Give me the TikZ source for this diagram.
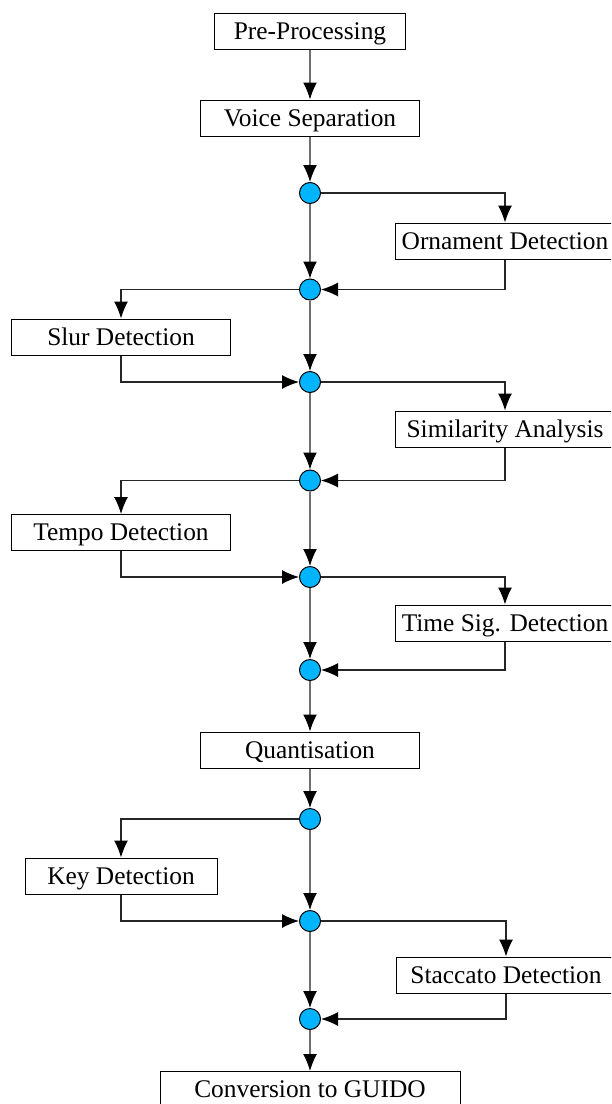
\documentclass[tikz,border=0pt]{standalone}
\usepackage{fontspec}
\setmainfont{Liberation Serif}
\usepackage{xcolor}
\usetikzlibrary{shapes,arrows.meta,positioning}
\definecolor{dot}{RGB}{0, 180, 255}
\definecolor{wire}{RGB}{110, 110, 110}
\tikzstyle{process} = [rectangle, draw, line width=0.5pt, minimum width=109.5pt, minimum height=18pt, inner sep=0pt, text height=11pt, text depth=3pt, font=\fontsize{12.7}{15}\selectfont]
\tikzstyle{junction} = [circle, draw, fill=dot, minimum size=10.5pt, inner sep=0pt, line width=0.5pt]
\tikzstyle{line} = [draw, wire, line width=0.7pt, -{Latex[length=8.5pt, width=7pt, color=black]}]
\tikzstyle{branch} = [draw, black!85, line width=0.6pt, -{Latex[length=8.5pt, width=7pt, color=black]}]

\begin{document}
\begin{tikzpicture}[x=0.5pt, y=-0.5pt]
    \useasboundingbox (0,0) rectangle (611,1104);
    \clip (0,0) rectangle (611,1104);

    % main column
    \node [process, minimum width=95.5pt] (pre) at (310,31) {Pre-Processing};
    \node [process, below of=pre, node distance=43.5pt] (voice) {Voice Separation};
    \node [junction, below of=voice, node distance=37.5pt] (j1) {};
    \node [junction, below of=j1, node distance=48.25pt] (j2) {};
    \node [junction, below of=j2, node distance=46.25pt] (j3) {};
    \node [junction, below of=j3, node distance=49.25pt] (j4) {};
    \node [junction, below of=j4, node distance=48.25pt] (j5) {};
    \node [junction, below of=j5, node distance=46.5pt] (j6) {};
    \node [process, below of=j6, node distance=40pt] (quant) {Quantisation};
    \node [junction, below of=quant, node distance=34.5pt] (j7) {};
    \node [junction, below of=j7, node distance=51pt] (j8) {};
    \node [junction, below of=j8, node distance=49pt] (j9) {};
    \node [process, minimum width=150pt, below of=j9, node distance=35.25pt] (guido) {Conversion to GUIDO};

    % side steps
    \node [process, below of=j1, xshift= 97.5pt, node distance=24pt] (ornament) {Ornament Detection};
    \node [process, below of=j2, xshift=-94.5pt, node distance=23.75pt] (slur) {Slur Detection};
    \node [process, below of=j3, xshift= 97.5pt, node distance=23.5pt] (similar) {Similarity Analysis};
    \node [process, below of=j4, xshift=-94.5pt, node distance=26pt] (tempo) {Tempo Detection};
    \node [process, below of=j5, xshift= 97.5pt, node distance=23pt] (timesig) {Time Sig. Detection};
    \node [process, minimum width=96pt, below of=j7, xshift=-94.5pt, node distance=28.5pt] (key) {Key Detection};
    \node [process, below of=j8, xshift= 98pt, node distance=27pt] (staccato) {Staccato Detection};

    \path [line] (pre) -- (voice);
    \path [line] (voice) -- (j1);
    \path [line] (j1) -- (j2);
    \path [line] (j2) -- (j3);
    \path [line] (j3) -- (j4);
    \path [line] (j4) -- (j5);
    \path [line] (j5) -- (j6);
    \path [line] (j6) -- (quant);
    \path [line] (quant) -- (j7);
    \path [line] (j7) -- (j8);
    \path [line] (j8) -- (j9);
    \path [line] (j9) -- (guido);

    \path [branch] (j1) -| (ornament);
    \path [branch] (ornament) |- (j2);
    \path [branch] (j2) -| (slur);
    \path [branch] (slur) |- (j3);
    \path [branch] (j3) -| (similar);
    \path [branch] (similar) |- (j4);
    \path [branch] (j4) -| (tempo);
    \path [branch] (tempo) |- (j5);
    \path [branch] (j5) -| (timesig);
    \path [branch] (timesig) |- (j6);
    \path [branch] (j7) -| (key);
    \path [branch] (key) |- (j8);
    \path [branch] (j8) -| (staccato);
    \path [branch] (staccato) |- (j9);
\end{tikzpicture}
\end{document}
